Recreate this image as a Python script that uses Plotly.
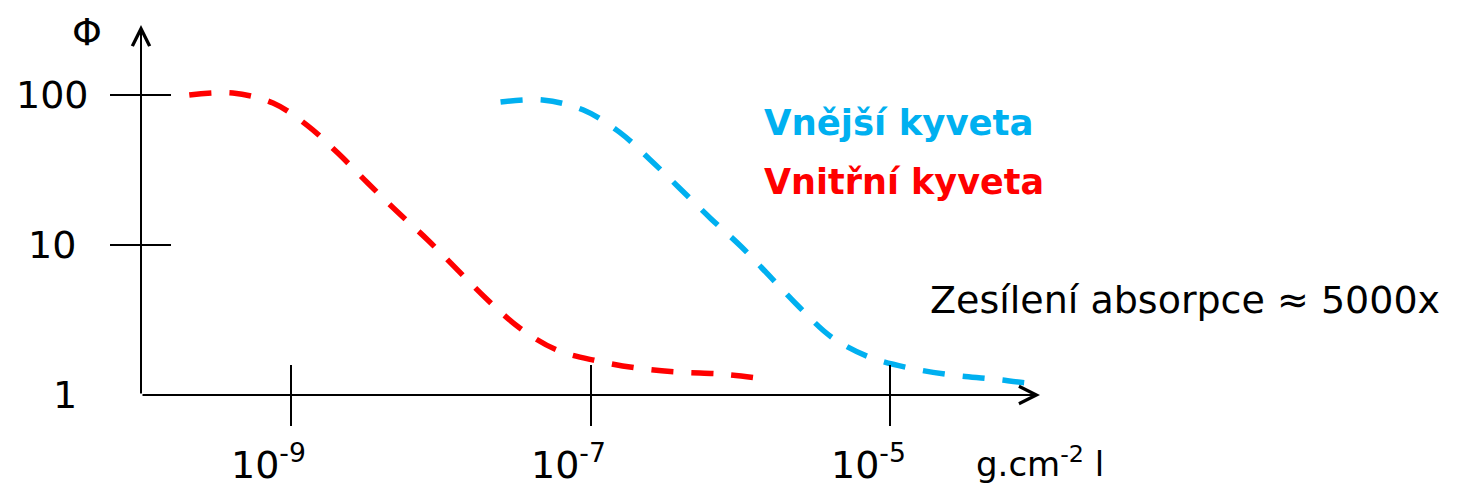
import math
import plotly.graph_objects as go

# Data (x in g.cm^-2, y = Phi)
red_x = [2.1e-10, 4.1e-10, 7.6e-10, 1.28e-9, 2.06e-9, 3.26e-9, 5.16e-9, 8.2e-9, 1.3e-8,
         2.06e-8, 3.37e-8, 5.93e-8, 1.1e-7, 2.06e-7, 3.92e-7, 7.46e-7, 1.28e-6]
red_y = [100, 103, 88.4, 63, 41, 25.9, 16.6, 10.8, 6.8, 4.3, 2.8, 2.0, 1.69, 1.51, 1.42, 1.38, 1.30]

blue_x = [2.51e-8, 4.79e-8, 8.97e-8, 1.56e-7, 2.51e-7, 3.92e-7, 6.31e-7, 1.02e-6, 1.61e-6,
          2.51e-6, 4.05e-6, 7.24e-6, 1.36e-5, 2.59e-5, 4.79e-5, 8.45e-5, 1.56e-4]
blue_y = [89.8, 92.6, 79.4, 56.6, 36.9, 24.0, 15.1, 9.7, 6.03, 3.80, 2.44, 1.79, 1.51, 1.36, 1.28, 1.20, 1.15]

x_tick_vals = [1e-9, 1e-7, 1e-5]
x_tick_exps = [-9, -7, -5]
y_tick_vals = [10, 100]
y_label_vals = [1, 10, 100]
y_label_text = ["1", "10", "100"]

RED = "#FF0000"
BLUE = "#00B0F0"
FONT = "DejaVu Sans"
OFF = 8  # page body margin
W, H = 1461 - OFF, 489 - OFF
L, R, T, B = 141 - OFF, 421, 25 - OFF, 94
PW, PH = W - L - R, H - T - B

fig = go.Figure()
fig.add_trace(go.Scatter(x=red_x, y=red_y, mode="lines", xaxis="x", yaxis="y",
                         line=dict(color=RED, width=5.5, dash="22px,18px", shape="spline"),
                         showlegend=False, hoverinfo="skip"))
fig.add_trace(go.Scatter(x=blue_x, y=blue_y, mode="lines", xaxis="x2", yaxis="y2",
                         line=dict(color=BLUE, width=5.5, dash="22px,18px", shape="spline"),
                         showlegend=False, hoverinfo="skip"))

common_x = dict(type="log", range=[-10, -4], tickvals=x_tick_vals, ticklen=30, tickwidth=2,
                tickcolor="black", showticklabels=False, showgrid=False, zeroline=False, showline=False)
common_y = dict(type="log", range=[0, 2.4667], tickvals=y_tick_vals, ticklen=30, tickwidth=2,
                tickcolor="black", showticklabels=False, showgrid=False, zeroline=False, showline=False)

fig.update_layout(
    width=W, height=H, autosize=False,
    margin=dict(l=L, r=R, t=T, b=B, pad=0),
    paper_bgcolor="white", plot_bgcolor="white",
    font=dict(family=FONT, color="black", size=36),
    xaxis=dict(ticks="outside", anchor="y", **common_x),
    xaxis2=dict(ticks="inside", overlaying="x", anchor="y2", side="bottom", **common_x),
    yaxis=dict(ticks="outside", anchor="x", **common_y),
    yaxis2=dict(ticks="inside", overlaying="y", anchor="x2", side="left", **common_y),
)

# helpers converting page pixel positions into paper fractions
def px(xp):
    return (xp - OFF - L) / PW

def py(yp):
    return (H - B - (yp - OFF)) / PH

anns = []
# axes with open arrow heads
anns.append(dict(x=1, y=0, xref="paper", yref="paper", ax=-PW, ay=0, axref="pixel", ayref="pixel",
                 showarrow=True, arrowhead=5, arrowwidth=2, arrowsize=1.7, arrowcolor="black", text=""))
anns.append(dict(x=0, y=1, xref="paper", yref="paper", ax=0, ay=PH, axref="pixel", ayref="pixel",
                 showarrow=True, arrowhead=5, arrowwidth=2, arrowsize=1.7, arrowcolor="black", text=""))

# y labels
for v, t, cx in zip(y_label_vals, y_label_text, [65, 52, 52]):
    anns.append(dict(x=px(cx), y=math.log10(v), xref="paper", yref="y", text=t, showarrow=False,
                     xanchor="center", yanchor="middle", font=dict(size=38)))
# x labels
for v, e in zip(x_tick_vals, x_tick_exps):
    anns.append(dict(x=math.log10(v), y=py(462), xref="x", yref="paper",
                     text=f"10<sup>{e}</sup>", showarrow=False, xanchor="center", yanchor="middle",
                     xshift=-22, font=dict(size=38)))

anns.append(dict(x=px(87), y=py(32), xref="paper", yref="paper", text="Φ", showarrow=False,
                 xanchor="center", yanchor="middle", font=dict(size=38)))
anns.append(dict(x=px(1040), y=py(462), xref="paper", yref="paper", text="g.cm<sup>-2</sup> l",
                 showarrow=False, xanchor="center", yanchor="middle", font=dict(size=34)))
anns.append(dict(x=px(762), y=py(122), xref="paper", yref="paper", text="<b>Vnější kyveta</b>",
                 showarrow=False, xanchor="left", yanchor="middle", font=dict(size=35.5, color=BLUE)))
anns.append(dict(x=px(762), y=py(182), xref="paper", yref="paper", text="<b>Vnitřní kyveta</b>",
                 showarrow=False, xanchor="left", yanchor="middle", font=dict(size=35, color=RED)))
anns.append(dict(x=px(928), y=py(300), xref="paper", yref="paper", text="Zesílení absorpce ≈ 5000x",
                 showarrow=False, xanchor="left", yanchor="middle", font=dict(size=38)))

fig.update_layout(annotations=anns)
fig.write_html("out.html")
